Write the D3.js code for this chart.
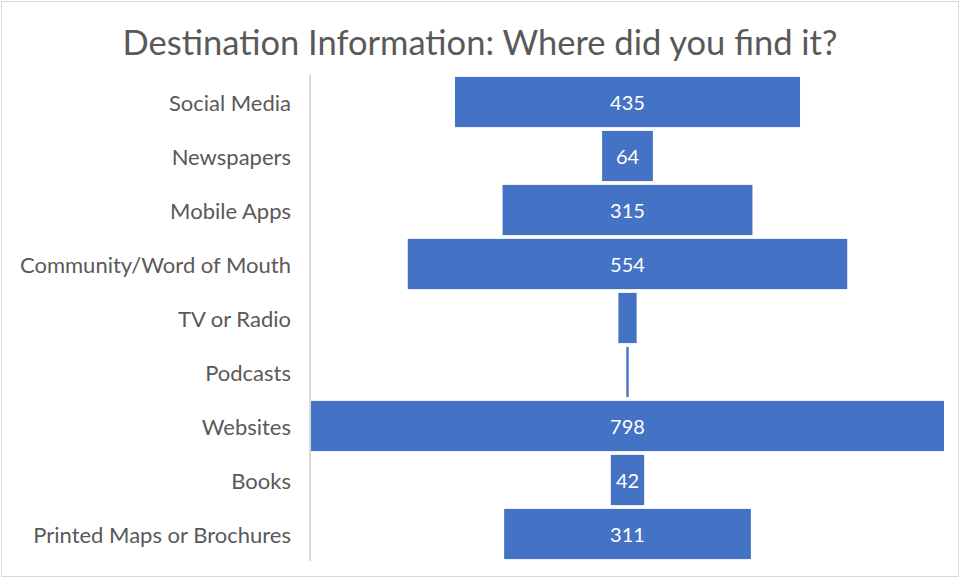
<!DOCTYPE html>
<html>
<head>
<meta charset="utf-8">
<script src="https://cdn.jsdelivr.net/npm/d3@7"></script>
<style>
  html, body { margin: 0; padding: 0; background: #fff; }
  svg { display: block; }
  text { font-family: Lato, "Open Sans", sans-serif; }
</style>
</head>
<body>
<svg id="chart" width="960" height="578"></svg>
<script>
// Source categories, top to bottom
const categories = [
  "Social Media",
  "Newspapers",
  "Mobile Apps",
  "Community/Word of Mouth",
  "TV or Radio",
  "Podcasts",
  "Websites",
  "Books",
  "Printed Maps or Brochures"
];
// Number of responses per source
const responses = [435, 64, 315, 554, 23, 3, 798, 42, 311];
// Value labels are shown only where the bar is wide enough
const showLabel = [true, true, true, true, false, false, true, true, true];

const title = "Destination Information: Where did you find it?";

const W = 960, H = 578;
const svg = d3.select("#chart");

// chart frame
svg.append("rect")
  .attr("x", 1.5).attr("y", 1.5)
  .attr("width", W - 3).attr("height", H - 3)
  .attr("fill", "#fff")
  .attr("stroke", "#d9d9d9").attr("stroke-width", 1);

const plot = { left: 311, right: 944, top: 75, bottom: 561 };
const maxV = d3.max(responses);

// symmetric funnel scale: each bar spans -v/2 .. v/2 around the centre
const x = d3.scaleLinear()
  .domain([-maxV / 2, maxV / 2])
  .range([plot.left, plot.right]);

const y = d3.scaleBand()
  .domain(categories)
  .range([plot.top, plot.bottom])
  .paddingInner(0.07)
  .paddingOuter(0.035);

const data = categories.map((c, i) => ({ cat: c, v: responses[i], label: showLabel[i] }));

// title
svg.append("text")
  .attr("x", 480).attr("y", 55)
  .attr("text-anchor", "middle")
  .attr("fill", "#595959")
  .attr("font-size", 34.5)
  .text(title);

// bars
svg.append("g").selectAll("rect")
  .data(data)
  .join("rect")
  .attr("x", d => x(-d.v / 2))
  .attr("width", d => x(d.v / 2) - x(-d.v / 2))
  .attr("y", d => y(d.cat))
  .attr("height", y.bandwidth())
  .attr("fill", "#4472c4");

// value labels
svg.append("g").selectAll("text")
  .data(data.filter(d => d.label))
  .join("text")
  .attr("x", x(0))
  .attr("y", d => y(d.cat) + y.bandwidth() / 2 + 1)
  .attr("dy", "0.35em")
  .attr("text-anchor", "middle")
  .attr("fill", "#fff")
  .attr("font-size", 20)
  .text(d => d.v);

// category axis
const axis = svg.append("g")
  .attr("transform", `translate(${plot.left - 1},0)`)
  .call(d3.axisLeft(y).tickSize(0).tickPadding(19));
axis.select(".domain").attr("stroke", "#d9d9d9").attr("stroke-width", 2)
  .attr("d", `M0,${plot.top}V${plot.bottom}`);
axis.selectAll(".tick text")
  .attr("fill", "#595959")
  .attr("font-size", 22)
  .attr("dy", "0.4em")
  .style("font-family", "Lato, 'Open Sans', sans-serif");
</script>
</body>
</html>
